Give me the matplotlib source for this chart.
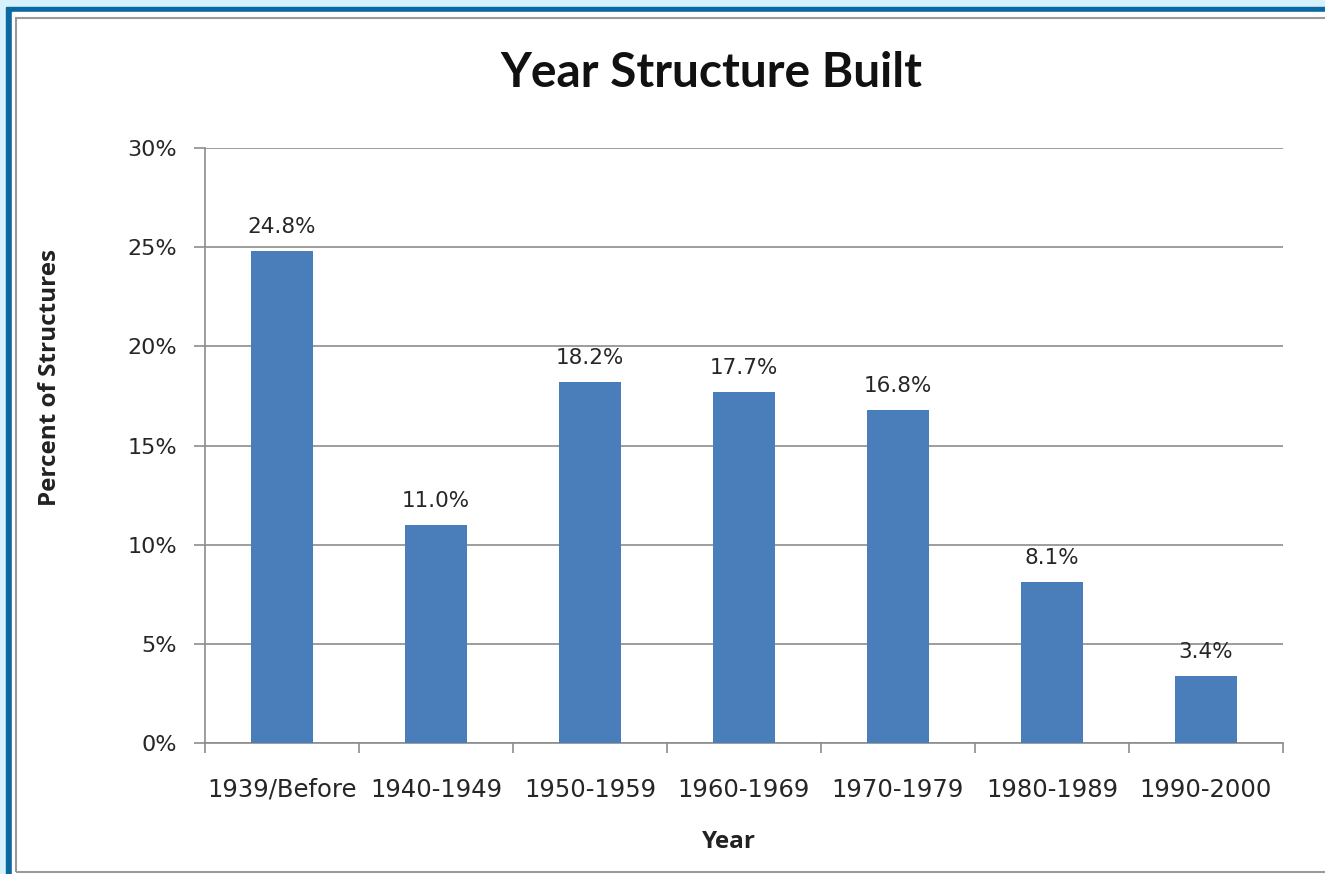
import matplotlib
matplotlib.use("Agg")
import matplotlib.pyplot as plt
from matplotlib.patches import Rectangle
from matplotlib.ticker import FixedLocator, PercentFormatter

# chart data
categories = ["1939/Before", "1940-1949", "1950-1959", "1960-1969",
              "1970-1979", "1980-1989", "1990-2000"]
percents = [24.8, 11.0, 18.2, 17.7, 16.8, 8.1, 3.4]
bar_labels = ["24.8%", "11.0%", "18.2%", "17.7%", "16.8%", "8.1%", "3.4%"]
y_ticks = [0, 5, 10, 15, 20, 25, 30]

W, H = 1325, 874
fig = plt.figure(figsize=(W / 100, H / 100), dpi=100)
fig.patch.set_facecolor("#d6f1fc")


def frac(x0, y0, x1, y1):
    # pixel box (top-left origin) -> figure fraction rectangle
    return (x0 / W, 1 - y1 / H), (x1 - x0) / W, (y1 - y0) / H


# blue frame, white panel and the thin grey inner frame
xy, w, h = frac(6, 7, W + 5, H + 5)
fig.add_artist(Rectangle(xy, w, h, transform=fig.transFigure, color="#0b68a0", zorder=0))
xy, w, h = frac(12, 12, W + 5, H + 5)
fig.add_artist(Rectangle(xy, w, h, transform=fig.transFigure, color="white", zorder=0))
xy, w, h = frac(16, 18, W + 5, 872)
fig.add_artist(Rectangle(xy, w, h, transform=fig.transFigure, fill=False,
                         edgecolor="#9a9a9a", linewidth=1.5, zorder=0))

ax = fig.add_axes([205 / W, 1 - 743 / H, (1283 - 205) / W, (743 - 148) / H])
ax.set_facecolor("none")

x = range(len(categories))
ax.bar(x, percents, width=0.4, color="#4a7ebb", zorder=3)
for xi, v, lab in zip(x, percents, bar_labels):
    ax.annotate(lab, (xi, v), xytext=(0, 10), textcoords="offset points",
                ha="center", va="bottom", fontsize=15.5, color="#262626",
                family="DejaVu Sans")

ax.set_xlim(-0.5, len(categories) - 0.5)
ax.set_ylim(0, 30)
ax.yaxis.set_major_locator(FixedLocator(y_ticks))
ax.yaxis.set_major_formatter(PercentFormatter(decimals=0))
ax.grid(axis="y", color="#8c8c8c", linewidth=1.2, zorder=0)

# category labels centred, tick marks on the boundaries
ax.set_xticks(list(x))
ax.set_xticklabels(categories)
ax.tick_params(axis="x", length=0, pad=25, labelsize=17.5, labelcolor="#262626")
ax.set_xticks([i - 0.5 for i in range(len(categories) + 1)], minor=True)
ax.tick_params(axis="x", which="minor", length=7, width=1.2, color="#8c8c8c", direction="out")
ax.tick_params(axis="y", length=8, width=1.2, color="#8c8c8c", pad=12,
               labelsize=16, labelcolor="#262626")

for s in ["top", "right"]:
    ax.spines[s].set_visible(False)
for s in ["left", "bottom"]:
    ax.spines[s].set_color("#8c8c8c")
    ax.spines[s].set_linewidth(1.2)

fig.text(711 / W, 1 - 73 / H, "Year Structure Built", ha="center", va="center",
         fontsize=34.5, fontweight="bold", family="Lato", color="#111111")
fig.text(50 / W, 1 - 377 / H, "Percent of Structures", ha="center", va="center",
         rotation=90, fontsize=17.5, fontweight="bold", family="Open Sans", color="#222222")
fig.text(729 / W, 1 - 842 / H, "Year", ha="center", va="center",
         fontsize=17.5, fontweight="bold", family="Open Sans", color="#222222")

fig.savefig("out.png", dpi=100, facecolor=fig.get_facecolor())
